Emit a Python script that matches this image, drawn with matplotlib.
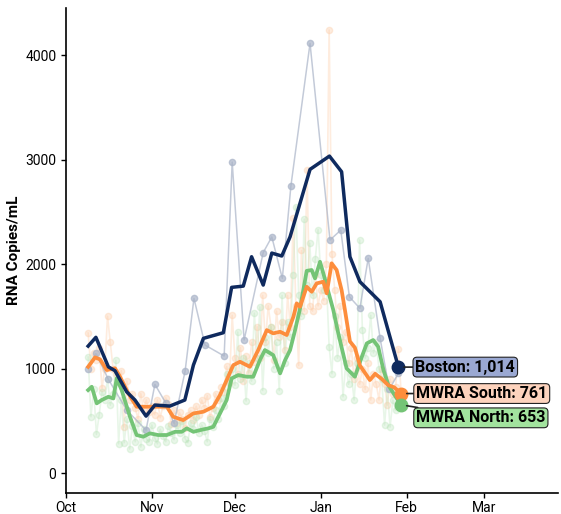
import pandas as pd
import matplotlib.pyplot as plt
import matplotlib.dates as mdates

plt.rcParams['font.family'] = ['Roboto', 'DejaVu Sans']

start = pd.Timestamp('2021-10-01')

# Boston: raw samples and smoothed line (day offsets from Oct 1)
boston_raw_days = [8, 10.8, 15.3, 22, 28.9, 32.1, 36.1, 39, 43, 46.2, 50.2, 57.1, 60, 64.3,
                   71.2, 74.3, 78.1, 81.2, 88.1, 95.3, 99.2, 102.3, 106.1, 109.1, 113.4, 116.7, 120]
boston_raw = [1000, 1145, 897, 600, 411, 849, 667, 476, 975, 1672, 1225, 1120, 2976, 1273,
              2110, 2260, 1863, 2749, 4112, 2230, 2325, 1687, 1576, 2055, 1289, 801, 954]

boston_days = [8.0, 10.8, 15.3, 17.7, 21.9, 24.9, 28.9, 32.1, 37.5, 42.9, 46.0, 49.6, 56.8, 59.8,
               64.0, 67.0, 71.2, 74.3, 77.9, 80.9, 88.1, 95.1, 99.5, 102.5, 106.1, 113.4, 120.0]
boston_smooth = [1215, 1299, 1017, 979, 778, 699, 545, 651, 641, 699, 1033, 1289, 1343, 1777,
                 1789, 2070, 1799, 2105, 2077, 2261, 2906, 3033, 2883, 2070, 1831, 1639, 1014]

# MWRA South: daily raw, day 8 .. 121
south_raw = [1340, 1000, 1150, 1080, 1200, 810, 1000, 1500, 1250, 1000,
             950, 870, 980, 440, 880, 700, 760, 620, 520, 760,
             600, 700, 580, 640, 560, 700, 530, 640, 720, 660,
             470, 600, 480, 580, 520, 430, 560, 600, 510, 640,
             560, 700, 620, 740, 540, 620, 760, 700, 820, 780,
             1020, 860, 1510, 1100, 950, 1200, 880, 1120, 960, 1250,
             1060, 1400, 1100, 1700, 1250, 1600, 1400, 1080, 1550, 1300,
             1450, 1180, 1700, 1400, 2440, 1600, 1030, 2130, 1550, 2900,
             1600, 1550, 1900, 1600, 1750, 1650, 2000, 4240, 2100, 1750,
             1400, 1600, 1250, 1350, 1050, 1200, 900, 1100, 850, 1000,
             800, 1050, 700, 950, 850, 700, 1000, 850, 650, 900,
             760, 820, 1190, 761]

south_days = [8.0, 10.5, 12.3, 14.7, 17.7, 19.5, 22.5, 25.5, 29.1, 32.7, 36.4, 38.7, 42.3, 46.0,
              49.6, 53.2, 55.6, 60.4, 62.8, 66.4, 69.4, 72.5, 74.8, 77.3, 79.7, 82.1, 83.3, 84.5,
              86.9, 88.7, 90.5, 92.9, 94.1, 95.9, 97.7, 99.5, 100.7, 102.5, 104.3, 106.1, 107.9,
              109.7, 111.6, 114.0, 116.4, 118.5, 121.0]
south_smooth = [1017, 1107, 1088, 986, 1002, 922, 763, 635, 635, 635, 635, 539, 507, 571,
                587, 635, 746, 1033, 1065, 1017, 1177, 1368, 1337, 1352, 1321, 1496, 1624, 1591,
                1783, 1735, 1815, 1831, 1720, 2007, 1943, 1750, 1560, 1260, 1200, 1030, 960,
                890, 950, 900, 840, 820, 761]

# MWRA North: daily raw, day 8 .. 121
north_raw = [1110, 540, 800, 370, 560, 780, 700, 900, 650, 760,
             1080, 280, 700, 290, 520, 230, 450, 300, 480, 250,
             420, 330, 300, 460, 340, 280, 420, 350, 300, 450,
             380, 320, 460, 380, 500, 330, 290, 480, 420, 540,
             380, 460, 400, 300, 520, 440, 600, 520, 720, 640,
             950, 880, 1000, 840, 1350, 900, 1100, 690, 1050, 880,
             1530, 1100, 1590, 790, 1300, 1150, 1400, 1000, 1250, 790,
             1700, 1050, 1450, 1300, 1900, 2550, 1700, 1500, 2430, 1800,
             2200, 1700, 2050, 2330, 1900, 1750, 1850, 1210, 950, 1500,
             1100, 1300, 730, 1050, 850, 950, 700, 1050, 2230, 1370,
             1100, 1200, 1510, 1150, 1250, 1000, 900, 460, 800, 440,
             700, 600, 750, 653]

north_days = [8.0, 9.3, 11.1, 12.9, 15.3, 17.1, 18.3, 20.1, 23.1, 25.5, 27.9, 30.3, 33.3, 36.4,
              39.4, 41.8, 43.6, 46.0, 48.4, 51.4, 53.2, 55.6, 58.0, 59.8, 62.2, 65.2, 67.6, 70.0,
              71.8, 74.8, 77.3, 79.1, 80.9, 82.7, 84.5, 86.9, 88.7, 89.9, 91.7, 92.9, 94.7, 96.5,
              98.3, 101.3, 104.3, 106.8, 108.6, 110.9, 112.7, 114.6, 116.4, 118.2, 121.0]
north_smooth = [794, 826, 667, 699, 730, 714, 906, 794, 539, 364, 348, 380, 364, 364,
                395, 395, 428, 395, 411, 428, 443, 571, 699, 906, 938, 922, 922, 1081,
                1177, 1129, 954, 1081, 1177, 1368, 1576, 1935, 1943, 1863, 2022, 1911, 1735, 1560,
                1337, 1002, 922, 1113, 1241, 1273, 1209, 986, 842, 763, 653]


def to_dates(days):
    return start + pd.to_timedelta(days, unit='D')


raw_days = list(range(8, 122))

navy = '#0f2a5e'
orange = '#fd8d3c'
green = '#74c476'

fig = plt.figure(figsize=(5.61, 5.14), dpi=100)
ax = fig.add_axes([0.1176, 0.041, 0.877, 0.9434])

# raw points
ax.plot(to_dates(raw_days), south_raw, color='#fdd0ae', alpha=0.4, lw=1.2,
        marker='o', ms=4.5, zorder=1)
ax.plot(to_dates(raw_days), north_raw, color='#b5e2b5', alpha=0.3, lw=1.2,
        marker='o', ms=4.5, zorder=1)
ax.plot(to_dates(boston_raw_days), boston_raw, color='#aab4c8', alpha=0.7, lw=1.1,
        marker='o', ms=4.5, zorder=2)

# smoothed lines
ax.plot(to_dates(north_days), north_smooth, color=green, lw=2.7, zorder=3)
ax.plot(to_dates(south_days), south_smooth, color=orange, lw=2.7, zorder=4)
ax.plot(to_dates(boston_days), boston_smooth, color=navy, lw=2.5, zorder=5)

# end markers + labels
ends = [
    (boston_days[-1], boston_smooth[-1], navy, '#9aa8d2', 'Boston', (17, 0)),
    (south_days[-1], south_smooth[-1], orange, '#fdd3bd', 'MWRA South', (15, 0)),
    (north_days[-1], north_smooth[-1], green, '#a2e39e', 'MWRA North', (15, -13)),
]
for d, v, c, bg, name, off in ends:
    x = to_dates([d])[0]
    ax.plot([x], [v], 'o', color=c, ms=9, zorder=6)
    ax.annotate(f'{name}: {v:,}', xy=(x, v), xytext=off, textcoords='offset pixels',
                ha='left', va='center', fontsize=11.5, fontweight='bold', color='black',
                bbox=dict(boxstyle='round,pad=0.15,rounding_size=0.25', fc=bg, ec='#222222', lw=0.8),
                arrowprops=dict(arrowstyle='-', color='#222222', lw=1.2, shrinkA=0, shrinkB=4),
                zorder=7, annotation_clip=False)

ax.set_xlim(start, start + pd.Timedelta(days=177.6))
ax.set_ylim(-190, 4450)
ax.set_yticks([0, 1000, 2000, 3000, 4000])
ax.xaxis.set_major_locator(mdates.MonthLocator())
ax.xaxis.set_major_formatter(mdates.DateFormatter('%b'))
ax.set_ylabel('RNA Copies/mL', fontsize=11, fontweight='bold', labelpad=3)
ax.tick_params(labelsize=10, length=3.5, width=1)
ax.tick_params(axis='x', pad=2)
for s in ['top', 'right']:
    ax.spines[s].set_visible(False)
ax.spines['left'].set_linewidth(1.2)
ax.spines['bottom'].set_linewidth(1.2)

plt.savefig('out.png', dpi=100)
